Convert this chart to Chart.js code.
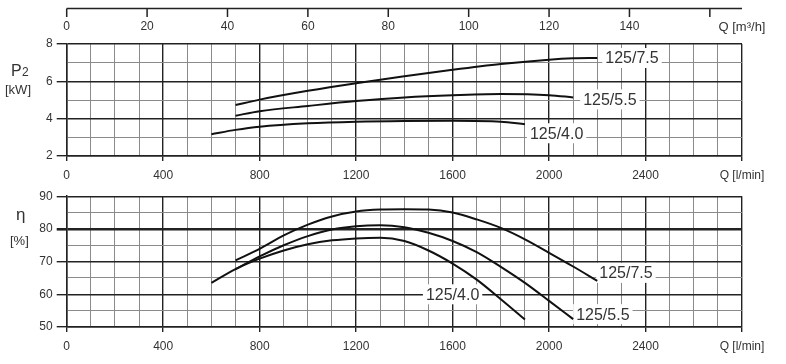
<!DOCTYPE html>
<html>
<head>
<meta charset="utf-8">
<script src="https://cdn.jsdelivr.net/npm/chart.js@4.4.1/dist/chart.umd.min.js"></script>
<style>
  html, body { margin: 0; padding: 0; background: #fff; }
  #wrap { position: relative; width: 786px; height: 364px; }
  .panel { position: absolute; left: 0; width: 786px; }
  #topPanel { top: 0; height: 185px; }
  #botPanel { top: 185px; height: 179px; }
</style>
</head>
<body>
<div id="wrap">
  <div class="panel" id="topPanel"><canvas id="powerChart" width="786" height="185"></canvas></div>
  <div class="panel" id="botPanel"><canvas id="effChart" width="786" height="179"></canvas></div>
</div>
<script>
// pump models
const pumps = ['125/7.5', '125/5.5', '125/4.0'];

// P2 [kW] vs Q [l/min]
const flowP75 = [700, 800, 1000, 1200, 1400, 1600, 1800, 2000, 2100, 2200];
const power75 = [4.73, 5.02, 5.49, 5.90, 6.27, 6.62, 6.93, 7.16, 7.23, 7.25];
const flowP55 = [700, 800, 1000, 1200, 1400, 1600, 1800, 2000, 2100];
const power55 = [4.16, 4.40, 4.68, 4.94, 5.14, 5.26, 5.32, 5.26, 5.14];
const flowP40 = [600, 700, 800, 1000, 1200, 1400, 1600, 1800, 1900];
const power40 = [3.17, 3.40, 3.57, 3.75, 3.84, 3.88, 3.89, 3.84, 3.70];

// efficiency [%] vs Q [l/min]
const flowE75 = [700, 800, 900, 1000, 1100, 1200, 1300, 1400, 1500, 1600, 1700, 1800, 1900, 2000, 2100, 2200];
const eff75 = [70.4, 73.9, 78.0, 81.3, 83.8, 85.3, 85.9, 86.0, 85.9, 85.0, 82.9, 80.3, 76.8, 72.7, 68.5, 64.1];
const flowE55 = [700, 800, 900, 1000, 1100, 1200, 1300, 1400, 1500, 1600, 1700, 1800, 1900, 2000, 2100];
const eff55 = [67.7, 71.6, 75.0, 77.8, 79.8, 80.8, 81.1, 80.5, 78.8, 76.3, 72.9, 68.4, 63.5, 58.0, 52.4];
const flowE40 = [600, 700, 800, 900, 1000, 1100, 1200, 1300, 1400, 1500, 1600, 1700, 1800, 1900];
const eff40 = [63.5, 67.7, 70.9, 73.4, 75.3, 76.5, 77.1, 77.3, 76.3, 73.4, 69.4, 64.5, 58.5, 52.3];

// secondary flow axis (m3/h)
const m3hTicks = [0, 20, 40, 60, 80, 100, 120, 140, 160];
const LPM_PER_M3H = 1000 / 60;

const FONT = '"Liberation Sans", Arial, sans-serif';
const DARK = '#222';
const LIGHT = '#8a8a8a';

function pts(xs, ys) {
  return xs.map((x, i) => ({ x: x, y: ys[i] }));
}

// tag: where the model name goes, relative to the curve end or at a data spot
function curve(label, data, tag) {
  return {
    label: label,
    data: data,
    tag: tag,
    borderColor: '#111',
    borderWidth: 2,
    pointRadius: 0,
    fill: false,
    tension: 0.4,
    cubicInterpolationMode: 'monotone'
  };
}

// writes the model name next to each curve, on a white patch
const curveLabels = {
  id: 'curveLabels',
  beforeDatasetsDraw(chart) {
    const ctx = chart.ctx;
    ctx.save();
    ctx.font = '16px ' + FONT;
    ctx.textBaseline = 'middle';
    chart.data.datasets.forEach((ds, i) => {
      const it = ds.tag;
      const text = ds.label;
      const w = ctx.measureText(text).width;
      let left, y;
      if (it.atX !== undefined) {
        left = chart.scales.x.getPixelForValue(it.atX) - w / 2;
        y = chart.scales.y.getPixelForValue(it.atY);
      } else {
        const els = chart.getDatasetMeta(i).data;
        const p = els[els.length - 1];
        left = p.x + it.dx;
        y = p.y + it.dy;
      }
      ctx.fillStyle = '#fff';
      ctx.fillRect(left - 3, y - 10, w + 6, 20);
      ctx.fillStyle = '#333';
      ctx.fillText(text, left, y + 1);
    });
    ctx.restore();
  }
};

// quantity names at the left, plus the m3/h axis on top
const sideTitles = {
  id: 'sideTitles',
  afterDraw(chart, args, opts) {
    const ctx = chart.ctx;
    ctx.save();
    ctx.fillStyle = '#333';
    ctx.textBaseline = 'alphabetic';
    ctx.textAlign = 'left';
    opts.lines.forEach(l => {
      ctx.font = l.size + 'px ' + FONT;
      ctx.fillText(l.text, l.x, l.y);
    });
    if (opts.m3h) {
      const xs = chart.scales.x;
      ctx.strokeStyle = DARK;
      ctx.lineWidth = 1.5;
      ctx.beginPath();
      ctx.moveTo(xs.left, 8.5);
      ctx.lineTo(xs.right, 8.5);
      m3hTicks.forEach(m => {
        const px = xs.getPixelForValue(m * LPM_PER_M3H);
        ctx.moveTo(px, 8.5);
        ctx.lineTo(px, 17);
      });
      ctx.stroke();
      ctx.font = '12px ' + FONT;
      ctx.textAlign = 'center';
      ctx.textBaseline = 'middle';
      m3hTicks.slice(0, -1).forEach(m => {
        ctx.fillText(String(m), xs.getPixelForValue(m * LPM_PER_M3H), 27);
      });
      ctx.font = '13px ' + FONT;
      ctx.fillText('Q [m\u00b3/h]', xs.right, 27);
    }
    ctx.restore();
  }
};

function xAxis(height) {
  return {
    type: 'linear',
    min: 0,
    max: 2800,
    afterFit: s => { s.height = height; },
    border: { color: DARK, width: 1.5 },
    grid: {
      color: c => (c.tick && c.tick.value % 400 === 0) ? DARK : LIGHT,
      lineWidth: c => (c.tick && c.tick.value % 400 === 0) ? 1.4 : 1,
      tickColor: c => (c.tick && c.tick.value % 400 === 0) ? DARK : 'rgba(0,0,0,0)',
      tickLength: 5
    },
    ticks: {
      stepSize: 100,
      autoSkip: false,
      maxRotation: 0,
      padding: 7,
      color: '#333',
      font: { family: FONT, size: 12 },
      callback: v => v === 2800 ? 'Q [l/min]' : (v % 400 === 0 ? String(v) : '')
    }
  };
}

function yAxis(min, max, step, labelEvery, thick) {
  return {
    type: 'linear',
    min: min,
    max: max,
    afterFit: s => { s.width = 30.7; },
    border: { color: DARK, width: 1.5 },
    grid: {
      color: c => (c.tick && c.tick.value % labelEvery === 0) ? DARK : LIGHT,
      lineWidth: c => (c.tick && c.tick.value === thick) ? 2.6 : ((c.tick && c.tick.value % labelEvery === 0) ? 1.4 : 1),
      tickColor: c => (c.tick && c.tick.value % labelEvery === 0) ? DARK : 'rgba(0,0,0,0)',
      tickLength: 10
    },
    ticks: {
      stepSize: step,
      autoSkip: false,
      padding: 4,
      color: '#333',
      font: { family: FONT, size: 12 },
      callback: v => v % labelEvery === 0 ? String(v) : ''
    }
  };
}

new Chart(document.getElementById('powerChart'), {
  type: 'line',
  data: {
    datasets: [
      curve(pumps[0], pts(flowP75, power75), { dx: 8, dy: 0 }),
      curve(pumps[1], pts(flowP55, power55), { dx: 10, dy: 2 }),
      curve(pumps[2], pts(flowP40, power40), { dx: 5, dy: 9 })
    ]
  },
  options: {
    responsive: false,
    animation: false,
    layout: { padding: { top: 44, left: 36, right: 44, bottom: 0 } },
    scales: {
      x: xAxis(29),
      y: yAxis(2, 8, 1, 2, null)
    },
    plugins: {
      legend: { display: false },
      tooltip: { enabled: false },
      sideTitles: {
        m3h: true,
        lines: [
          { text: 'P', size: 16, x: 11, y: 76 },
          { text: '2', size: 12, x: 22, y: 76 },
          { text: '[kW]', size: 13, x: 5, y: 94 }
        ]
      }
    }
  },
  plugins: [curveLabels, sideTitles]
});

new Chart(document.getElementById('effChart'), {
  type: 'line',
  data: {
    datasets: [
      curve(pumps[0], pts(flowE75, eff75), { dx: 2, dy: -8 }),
      curve(pumps[1], pts(flowE55, eff55), { dx: 3, dy: -5 }),
      curve(pumps[2], pts(flowE40, eff40), { atX: 1600, atY: 60 })
    ]
  },
  options: {
    responsive: false,
    animation: false,
    layout: { padding: { top: 7.3, left: 36, right: 44, bottom: 0 } },
    scales: {
      x: xAxis(37),
      y: yAxis(50, 90, 5, 10, 80)
    },
    plugins: {
      legend: { display: false },
      tooltip: { enabled: false },
      sideTitles: {
        lines: [
          { text: '\u03b7', size: 17, x: 16, y: 35 },
          { text: '[%]', size: 13, x: 10, y: 60 }
        ]
      }
    }
  },
  plugins: [curveLabels, sideTitles]
});
</script>
</body>
</html>
